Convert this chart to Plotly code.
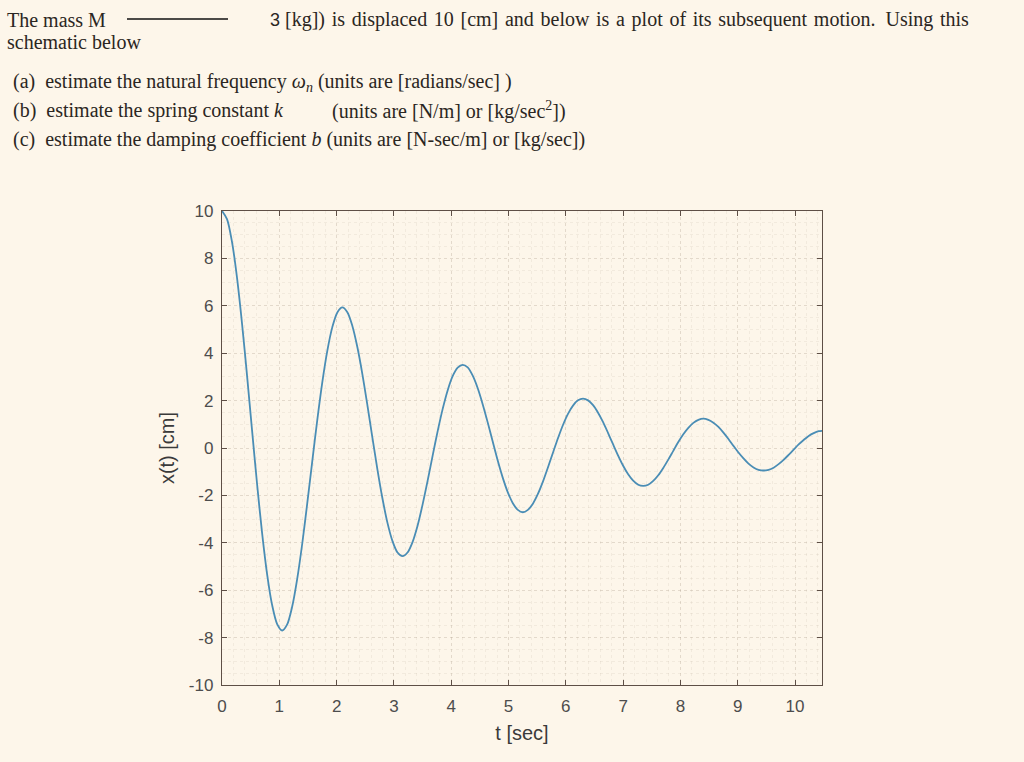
import plotly.graph_objects as go

x_cm = [10.00, 9.66, 8.69, 7.18, 5.24, 3.04, 0.73, -1.53, -3.59, -5.33, -6.63, -7.43,
        -7.70, -7.44, -6.69, -5.52, -4.04, -2.34, -0.56, 1.18, 2.77, 4.10, 5.10, 5.72,
        5.93, 5.73, 5.15, 4.25, 3.11, 1.80, 0.43, -0.91, -2.13, -3.16, -3.93, -4.41,
        -4.56, -4.41, -3.97, -3.28, -2.39, -1.39, -0.33, 0.70, 1.64, 2.43, 3.03, 3.39,
        3.51, 3.40, 3.05, 2.52, 1.84, 1.07, 0.26, -0.54, -1.26, -1.87, -2.33, -2.61,
        -2.71, -2.61, -2.35, -1.94, -1.42, -0.82, -0.20, 0.41, 0.97, 1.44, 1.79, 2.01,
        2.08, 2.01, 1.81, 1.49, 1.09, 0.63, 0.15, -0.32, -0.75, -1.11, -1.38, -1.55,
        -1.60, -1.55, -1.39, -1.15, -0.84, -0.49, -0.12, 0.25, 0.58, 0.85, 1.06, 1.19,
        1.24, 1.19, 1.07, 0.89, 0.65, 0.38, 0.09, -0.19, -0.44, -0.66, -0.82, -0.92,
        -0.95, -0.92, -0.83, -0.68, -0.50, -0.29, -0.07, 0.15, 0.34, 0.51, 0.63, 0.71, 0.73]
t_sec = [round(0.0875 * i, 4) for i in range(len(x_cm))]
x_ticks = [0, 1, 2, 3, 4, 5, 6, 7, 8, 9, 10]
y_ticks = [-10, -8, -6, -4, -2, 0, 2, 4, 6, 8, 10]
y_ticklabels = ["-10", "-8", "-6", "-4", "-2", "0", "2", "4", "6", "8", "10"]

BG = "#fdf6ea"
AX = "#5e4f46"
TXT = "#2b2622"

L, R, T, B = 222, 822, 211, 685
W, H = 1024, 762

fig = go.Figure()
fig.add_trace(go.Scatter(x=t_sec, y=x_cm, mode="lines",
                         line=dict(color="#4a8db5", width=1.8, shape="spline", smoothing=0.8),
                         showlegend=False, hoverinfo="skip"))

TICKFONT = dict(family="Liberation Sans, Arial, sans-serif", size=17, color="#4d4d4d")
TITLEFONT = dict(family="Liberation Sans, Arial, sans-serif", size=20, color="#3a3a3a")

axis_common = dict(showline=True, linecolor=AX, linewidth=1.3, mirror="ticks",
                   ticks="inside", ticklen=5, tickcolor=AX, tickwidth=1.2,
                   showgrid=True, gridcolor="rgba(150,130,110,0.16)", griddash="dot", gridwidth=1,
                   zeroline=False)

fig.update_xaxes(range=[0, 10.47], tickvals=x_ticks, ticktext=[str(v) for v in x_ticks],
                 ticklabelstandoff=5,
                 minor=dict(dtick=0.2, showgrid=True, gridcolor="rgba(150,130,110,0.10)", griddash="dot", ticks=""),
                 **axis_common)
fig.update_yaxes(range=[-10, 10], tickvals=y_ticks, ticktext=y_ticklabels,
                 ticklabelstandoff=4,
                 minor=dict(dtick=0.5, showgrid=True, gridcolor="rgba(150,130,110,0.10)", griddash="dot", ticks=""),
                 **axis_common)
fig.layout.xaxis.tickfont = TICKFONT
fig.layout.yaxis.tickfont = TICKFONT
fig.layout.xaxis.title = dict(text="t [sec]", font=TITLEFONT, standoff=11)
fig.layout.yaxis.title = dict(text="x(t) [cm]", font=TITLEFONT, standoff=8)

def px(xp):
    return (xp - L) / (R - L)

def py(yp):
    return (B - yp) / (B - T)

serif = dict(family="Liberation Serif, DejaVu Serif, serif", size=20, color=TXT)

hs = " \u200a"
line1 = hs.join("[kg]) is displaced 10 [cm] and below is a plot of its subsequent motion.".split(" ")) \
    + "  " + hs.join("Using this".split(" "))

texts = [
    (5, 20, "The mass M"),
    (283, 20, line1),
    (5, 42, "schematic below"),
    (11, 82, "(a)  estimate the natural frequency <i>ω<sub>n</sub></i> (units are [radians/sec] )"),
    (11, 111, "(b)  estimate the spring constant <i>k</i>"),
    (330, 111, "(units are [N/m] or [kg/sec<sup>2</sup>])"),
    (11, 140, "(c)  estimate the damping coefficient <i>b</i> (units are [N-sec/m] or [kg/sec])"),
]
annots = []
for xp, yp, s in texts:
    annots.append(dict(x=px(xp), y=py(yp), xref="paper", yref="paper", text=s, showarrow=False,
                       xanchor="left", yanchor="middle", font=serif))
annots.append(dict(x=px(268), y=py(20), xref="paper", yref="paper", text="3", showarrow=False,
                   xanchor="left", yanchor="middle",
                   font=dict(family="Liberation Sans, Arial", size=18, color=TXT)))

fig.update_layout(
    width=W, height=H,
    margin=dict(l=L, r=W - R, t=T, b=H - B),
    paper_bgcolor=BG, plot_bgcolor=BG,
    annotations=annots,
    shapes=[dict(type="line", xref="paper", yref="paper", x0=px(127), x1=px(228), y0=py(19), y1=py(19),
                 line=dict(color="#111111", width=1.5))],
)

fig.write_html("out.html")
